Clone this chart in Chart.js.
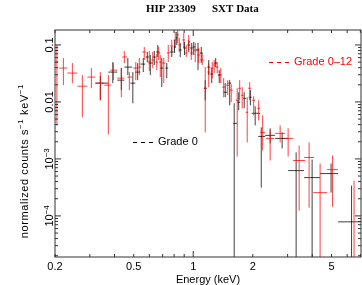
<!DOCTYPE html>
<html>
<head>
<meta charset="utf-8">
<script src="https://cdn.jsdelivr.net/npm/chart.js@4.4.1/dist/chart.umd.min.js"></script>
<style>
  body { margin: 0; background: #fff; }
  canvas { display: block; }
</style>
</head>
<body>
<canvas id="chart" width="362" height="285"></canvas>
<script>
// energy bins (keV) and normalized rates (counts/s/keV)
const redE    = [0.2045,0.2205,0.2448,0.275,0.3054,0.339,0.3722,0.3945,0.4329,0.4483,0.4751,0.5124,0.5337,0.5655,0.5995,0.6244,0.6541,0.6695,0.6813,0.7096,0.7476,0.7788,0.8112,0.8351,0.8498,0.8954,0.9218,0.9491,0.977,1.0235,1.0661,1.1103,1.1497,1.1975,1.2474,1.2765,1.3218,1.3768,1.4256,1.4935,1.5557,1.6683,1.7175,1.7683,1.874,1.9293,2.0212,2.1423,2.2442,2.4485,2.7506,3.0186,3.4308,3.8535,4.3793,5.064,6.5028];
const redElo  = [0.201,0.2105,0.231,0.2595,0.2915,0.3199,0.3552,0.3808,0.4132,0.438,0.4642,0.4977,0.5275,0.5527,0.5857,0.6136,0.6428,0.6579,0.6734,0.6974,0.7347,0.7652,0.7971,0.8254,0.8399,0.8798,0.9112,0.938,0.9656,1.0,1.0476,1.0849,1.1365,1.1767,1.2256,1.2618,1.299,1.353,1.4011,1.4678,1.5287,1.6393,1.6878,1.7478,1.8417,1.896,1.9862,2.1052,2.18,2.3374,2.5951,2.848,3.1997,3.636,4.0374,4.7514,5.8587];
const redEhi  = [0.208,0.231,0.2595,0.2915,0.3199,0.3552,0.3853,0.4132,0.4483,0.4642,0.4918,0.5275,0.5463,0.5789,0.6136,0.6353,0.6656,0.6813,0.6934,0.7222,0.7608,0.7925,0.8254,0.8448,0.8647,0.9112,0.938,0.9656,0.9942,1.0476,1.0849,1.1365,1.17,1.2185,1.2691,1.299,1.3452,1.4011,1.4508,1.5199,1.5832,1.6878,1.7478,1.7993,1.896,1.9634,2.0567,2.18,2.3104,2.5654,2.915,3.1997,3.6788,4.0846,4.7514,5.3997,7.05];
const redRate = [0.0501,0.0393,0.0321,0.0189,0.0273,0.0214,0.0197,0.0362,0.0262,0.0614,0.0273,0.0393,0.0409,0.0752,0.0501,0.0544,0.0501,0.0723,0.0501,0.0481,0.0723,0.096,0.1225,0.1501,0.1,0.1225,0.0723,0.1129,0.0723,0.0816,0.0666,0.0544,0.0174,0.0334,0.0393,0.0444,0.0409,0.0296,0.0182,0.0197,0.0161,0.0107,0.0174,0.0131,0.00658,0.0174,0.0107,0.00774,0.00292,0.00229,0.00281,0.00229,0.000937,0.00106,0.000256,0.00065,0.000012];
const redRlo  = [0.00388,0.0197,0.0214,0.00537,0.0174,0.0107,0.00269,0.0241,0.0121,0.0481,0.0161,0.0241,0.0296,0.0544,0.0348,0.0393,0.0362,0.0544,0.0273,0.0214,0.0501,0.0752,0.0885,0.1084,0.0752,0.0885,0.0614,0.0816,0.0544,0.0501,0.0481,0.0444,0.00292,0.0182,0.0262,0.0321,0.0321,0.0214,0.0121,0.0131,0.00988,0.0011,0.0107,0.00774,0.00195,0.0107,0.00583,0.00475,0.00141,0.000937,0.00195,0.0011,0.000123,0.000139,1e-6,0.000145,1e-6];
const redRhi  = [0.1,0.059,0.0481,0.0296,0.0393,0.0334,0.0296,0.0481,0.0393,0.0784,0.0334,0.0501,0.059,0.0922,0.0784,0.0752,0.0694,0.0922,0.0666,0.059,0.1,0.1225,0.1696,0.1839,0.1329,0.1628,0.1,0.1501,0.0922,0.1084,0.0885,0.0723,0.0409,0.0481,0.0501,0.0544,0.0501,0.0393,0.0262,0.0241,0.0205,0.0174,0.0241,0.0182,0.0121,0.0222,0.0126,0.0107,0.00583,0.00317,0.00388,0.00344,0.00172,0.00195,0.00083,0.00115,0.000416];

const blackE    = [0.339,0.392,0.4329,0.467,0.495,0.5237,0.559,0.5857,0.6066,0.6353,0.6617,0.6934,0.7347,0.7788,0.8041,0.8254,0.8597,0.9032,0.9491,0.9827,1.0059,1.0568,1.0975,1.1497,1.1975,1.2402,1.299,1.353,1.4508,1.5287,1.6108,1.6977,1.8098,1.9448,2.0567,2.2076,2.4485,2.8151,3.313,3.9902,4.977,6.316];
const blackElo  = [0.3199,0.3722,0.4132,0.4483,0.4807,0.5094,0.54,0.5755,0.5961,0.6244,0.6504,0.6813,0.7222,0.7608,0.7971,0.8159,0.8448,0.8902,0.9326,0.9656,0.9942,1.0355,1.0785,1.1298,1.1767,1.2185,1.2765,1.3296,1.4175,1.5024,1.5922,1.6683,1.7886,1.9071,1.975,2.13,2.3104,2.5951,3.0186,3.636,4.3793,5.3997];
const blackEhi  = [0.3722,0.4132,0.4483,0.4918,0.5094,0.54,0.5721,0.5961,0.6244,0.6466,0.6734,0.7055,0.7476,0.7971,0.8159,0.8351,0.8748,0.9218,0.9656,0.9942,1.0235,1.0722,1.1167,1.17,1.2185,1.2618,1.3218,1.3768,1.4849,1.5557,1.6683,1.7275,1.8524,1.975,2.18,2.3104,2.5951,3.0186,3.636,4.3793,5.3997,7.05];
const blackRate = [0.0214,0.0334,0.0241,0.0409,0.0214,0.0334,0.0462,0.0614,0.0481,0.0614,0.0752,0.0393,0.0393,0.0752,0.0922,0.1329,0.0816,0.0885,0.1,0.0885,0.0922,0.0816,0.0723,0.0174,0.0409,0.0308,0.0481,0.0296,0.0148,0.0214,0.00421,0.00988,0.0116,0.0121,0.00632,0.00248,0.00259,0.00229,0.000624,0.00047,0.000553,0.0000787];
const blackRlo  = [0.0107,0.0214,0.0161,0.0296,0.00949,0.0241,0.0334,0.0501,0.0296,0.0444,0.0614,0.0182,0.0262,0.0614,0.0723,0.1,0.0614,0.0666,0.0752,0.0666,0.0666,0.0362,0.0481,0.0107,0.0296,0.0214,0.0409,0.0214,0.0121,0.00875,1e-6,0.00714,0.00774,0.00875,0.00388,0.000313,0.00187,0.00153,1e-6,1e-6,0.000256,1e-6];
const blackRhi  = [0.0284,0.0501,0.0393,0.059,0.0334,0.0481,0.059,0.0752,0.0666,0.0784,0.1,0.059,0.0481,0.0922,0.1225,0.1696,0.1084,0.1129,0.1225,0.1084,0.1129,0.1084,0.0922,0.0241,0.0544,0.0393,0.059,0.0362,0.0214,0.0241,0.00949,0.0148,0.0148,0.0161,0.00837,0.00358,0.00344,0.00292,0.0013,0.000976,0.00083,0.00034];

const xTicks = [0.2, 0.5, 1, 2, 5];
const yTicks = [0.1, 0.01, 1e-3, 1e-4];
const yTickText = [['0.1'], ['0.01'], ['10', '\u22123'], ['10', '\u22124']];

const FONT = '"Liberation Sans", Arial, Helvetica, sans-serif';
Chart.defaults.font.family = FONT;
Chart.defaults.font.size = 11;
Chart.defaults.color = '#000';

function pts(xs, ys) { return xs.map((x, i) => ({ x: x, y: ys[i] })); }

// error bar crosses for each bin
const crosses = {
  id: 'crosses',
  afterDatasetsDraw(chart) {
    const { ctx, chartArea: a, scales: { x, y } } = chart;
    ctx.save();
    ctx.beginPath();
    ctx.rect(a.left, a.top, a.right - a.left, a.bottom - a.top);
    ctx.clip();
    ctx.lineWidth = 1;
    chart.data.datasets.forEach(ds => {
      const e = ds.err;
      ctx.strokeStyle = ds.borderColor;
      ds.data.forEach((p, i) => {
        const px = x.getPixelForValue(p.x), py = y.getPixelForValue(p.y);
        ctx.beginPath();
        ctx.moveTo(x.getPixelForValue(e.elo[i]), py);
        ctx.lineTo(x.getPixelForValue(e.ehi[i]), py);
        ctx.moveTo(px, y.getPixelForValue(e.rlo[i]));
        ctx.lineTo(px, y.getPixelForValue(e.rhi[i]));
        ctx.stroke();
      });
    });
    ctx.restore();
  }
};

// frame, inward log ticks, y labels, title and legend text
const decor = {
  id: 'decor',
  afterDraw(chart) {
    const { ctx, chartArea: a, scales: { x, y } } = chart;
    ctx.save();
    ctx.strokeStyle = '#333';
    ctx.lineWidth = 1;
    ctx.strokeRect(a.left, a.top, a.right - a.left, a.bottom - a.top);

    ctx.beginPath();
    for (let d = 0.1; d <= 10; d *= 10) {
      for (let m = 1; m <= 9; m++) {
        const v = m * d;
        if (v < x.min || v > x.max) continue;
        const px = x.getPixelForValue(v), len = m === 1 ? 6 : 3;
        ctx.moveTo(px, a.bottom); ctx.lineTo(px, a.bottom - len);
        ctx.moveTo(px, a.top); ctx.lineTo(px, a.top + len);
      }
    }
    for (let d = 1e-5; d <= 1; d *= 10) {
      for (let m = 1; m <= 9; m++) {
        const v = m * d;
        if (v < y.min || v > y.max) continue;
        const py = y.getPixelForValue(v), len = m === 1 ? 6 : 3;
        ctx.moveTo(a.left, py); ctx.lineTo(a.left + len, py);
        ctx.moveTo(a.right, py); ctx.lineTo(a.right - len, py);
      }
    }
    ctx.stroke();

    ctx.fillStyle = '#000';
    yTicks.forEach((v, i) => {
      drawUp(ctx, yTickText[i], 49.5, y.getPixelForValue(v), 11, 0);
    });
    drawUp(ctx, ['normalized counts s', '\u22121', ' keV', '\u22121'], 24, 161, 11, 0.6);

    ctx.font = 'bold 11px "Liberation Serif", "Times New Roman", serif';
    ctx.textBaseline = 'alphabetic';
    ctx.textAlign = 'left';
    ctx.fillText('HIP 23309', 146, 12);
    ctx.fillText('SXT Data', 212, 12);

    ctx.font = '11px ' + FONT;
    ctx.textBaseline = 'middle';
    ctx.setLineDash([4, 4]);
    ctx.strokeStyle = '#ff0000';
    ctx.beginPath(); ctx.moveTo(269, 62.5); ctx.lineTo(292, 62.5); ctx.stroke();
    ctx.fillStyle = '#ff0000';
    ctx.fillText('Grade 0\u201312', 294, 62);
    ctx.strokeStyle = '#000';
    ctx.beginPath(); ctx.moveTo(133, 142.5); ctx.lineTo(156, 142.5); ctx.stroke();
    ctx.fillStyle = '#000';
    ctx.fillText('Grade 0', 158, 142);
    ctx.restore();
  }
};

// vertical text, parts alternate normal / superscript; gap = extra px per glyph
function drawUp(ctx, parts, cx, cy, size, gap) {
  const sup = Math.round(size * 0.72);
  ctx.save();
  let w = 0;
  parts.forEach((t, i) => {
    ctx.font = (i % 2 ? sup : size) + 'px ' + FONT;
    for (const ch of t) w += ctx.measureText(ch).width + gap;
  });
  ctx.translate(cx, cy);
  ctx.rotate(-Math.PI / 2);
  ctx.textBaseline = 'alphabetic';
  ctx.textAlign = 'left';
  let pos = -w / 2;
  const base = size * 0.36;
  parts.forEach((t, i) => {
    ctx.font = (i % 2 ? sup : size) + 'px ' + FONT;
    for (const ch of t) {
      ctx.fillText(ch, pos, i % 2 ? base - size * 0.42 : base);
      pos += ctx.measureText(ch).width + gap;
    }
  });
  ctx.restore();
}

new Chart(document.getElementById('chart'), {
  type: 'scatter',
  data: {
    datasets: [
      {
        label: 'Grade 0',
        data: pts(blackE, blackRate),
        err: { elo: blackElo, ehi: blackEhi, rlo: blackRlo, rhi: blackRhi },
        borderColor: 'rgba(0,0,0,0.75)',
        pointRadius: 0
      },
      {
        label: 'Grade 0-12',
        data: pts(redE, redRate),
        err: { elo: redElo, ehi: redEhi, rlo: redRlo, rhi: redRhi },
        borderColor: 'rgba(255,0,0,0.75)',
        pointRadius: 0
      }
    ]
  },
  options: {
    responsive: false,
    animation: false,
    devicePixelRatio: 1,
    layout: { padding: { top: 30, right: 1, left: 0, bottom: 0 } },
    plugins: { legend: { display: false }, tooltip: { enabled: false } },
    scales: {
      x: {
        type: 'logarithmic',
        min: 0.2,
        max: 7.05,
        grid: { display: false, drawTicks: false },
        border: { display: false },
        afterBuildTicks: s => { s.ticks = xTicks.map(v => ({ value: v })); },
        afterFit: s => { s.height = 28; },
        ticks: { callback: v => String(v), padding: 3, maxRotation: 0, autoSkip: false },
        title: { display: true, text: 'Energy (keV)', padding: { top: 0, bottom: -2 } }
      },
      y: {
        type: 'logarithmic',
        min: 1.9e-5,
        max: 0.183,
        grid: { display: false, drawTicks: false },
        border: { display: false },
        ticks: { display: false },
        afterFit: s => { s.width = 55; }
      }
    }
  },
  plugins: [crosses, decor]
});
</script>
</body>
</html>
